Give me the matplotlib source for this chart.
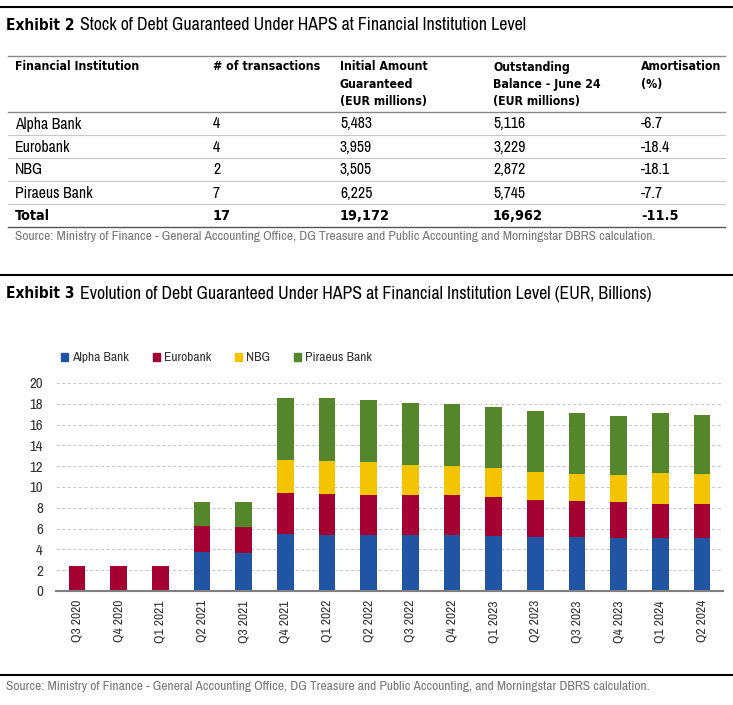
import numpy as np
import matplotlib
matplotlib.use('Agg')
import matplotlib.pyplot as plt
from matplotlib import font_manager as fm
from matplotlib.lines import Line2D
from matplotlib.patches import Patch

# the reference uses a condensed sans, so pick the narrowest faces we have
faces = fm.fontManager.ttflist


def is_bold(f):
    w = f.weight
    if isinstance(w, str):
        return w in ('bold', 'heavy', 'black', 'extra bold', 'demibold', 'semibold')
    return w >= 600


def is_narrow(f):
    return ('Narrow' in f.name or 'Condensed' in f.name
            or f.stretch in ('condensed', 'semi-condensed'))


reg = [f for f in faces if 'Narrow' in f.name and not is_bold(f)] or \
      [f for f in faces if is_narrow(f) and not is_bold(f)]
if reg:
    FAMILY, STRETCH = reg[0].name, reg[0].stretch
else:
    FAMILY, STRETCH = 'Liberation Sans', 'normal'

bld = [f for f in faces if is_narrow(f) and is_bold(f)]
bld.sort(key=lambda f: f.name != FAMILY)
if bld:
    BOLD_FAMILY, BOLD_STRETCH = bld[0].name, bld[0].stretch
else:
    BOLD_FAMILY, BOLD_STRETCH = 'Liberation Sans', 'normal'

plt.rcParams['font.family'] = [FAMILY, 'DejaVu Sans']
plt.rcParams['font.stretch'] = STRETCH

W, H = 733, 705

# Exhibit 2 table
table_headers = ['Financial Institution', '# of transactions',
                 'Initial Amount\nGuaranteed\n(EUR millions)',
                 'Outstanding\nBalance - June 24\n(EUR millions)',
                 'Amortisation\n(%)']
institutions = ['Alpha Bank', 'Eurobank', 'NBG', 'Piraeus Bank']
n_transactions = ['4', '4', '2', '7']
initial_amount = ['5,483', '3,959', '3,505', '6,225']
outstanding = ['5,116', '3,229', '2,872', '5,745']
amortisation = ['-6.7', '-18.4', '-18.1', '-7.7']
total_row = ['Total', '17', '19,172', '16,962', '-11.5']

# Exhibit 3 stacked bars (EUR billions)
quarters = ['Q3 2020', 'Q4 2020', 'Q1 2021', 'Q2 2021', 'Q3 2021', 'Q4 2021',
            'Q1 2022', 'Q2 2022', 'Q3 2022', 'Q4 2022', 'Q1 2023', 'Q2 2023',
            'Q3 2023', 'Q4 2023', 'Q1 2024', 'Q2 2024']
alpha_bank = [0, 0, 0, 3.75, 3.69, 5.45, 5.42, 5.42, 5.42, 5.38, 5.32, 5.22,
              5.22, 5.13, 5.13, 5.12]
eurobank = [2.4, 2.4, 2.4, 2.47, 2.46, 3.94, 3.94, 3.81, 3.84, 3.85, 3.72, 3.56,
            3.43, 3.43, 3.24, 3.23]
nbg = [0, 0, 0, 0, 0, 3.17, 3.17, 3.17, 2.82, 2.76, 2.79, 2.69,
       2.63, 2.56, 2.94, 2.87]
piraeus_bank = [0, 0, 0, 2.37, 2.38, 6.03, 6.00, 6.00, 5.96, 5.99, 5.89, 5.87,
                5.80, 5.74, 5.77, 5.75]

series = [('Alpha Bank', alpha_bank, '#2155a3'),
          ('Eurobank', eurobank, '#a50034'),
          ('NBG', nbg, '#f5c400'),
          ('Piraeus Bank', piraeus_bank, '#56862b')]

src2 = ('Source: Ministry of Finance - General Accounting Office, DG Treasure '
        'and Public Accounting and Morningstar DBRS calculation.')
src3 = ('Source: Ministry of Finance - General Accounting Office, DG Treasure '
        'and Public Accounting, and Morningstar DBRS calculation.')
title2 = 'Stock of Debt Guaranteed Under HAPS at Financial Institution Level'
title3 = 'Evolution of Debt Guaranteed Under HAPS at Financial Institution Level (EUR, Billions)'


def fx(px):
    return px / W


def fy(py):
    return 1 - py / H


def hline(fig, y, x0=0, x1=W, color='black', lw=1.5):
    fig.add_artist(Line2D([fx(x0), fx(x1)], [fy(y), fy(y)],
                          transform=fig.transFigure, color=color, lw=lw))


fig = plt.figure(figsize=(W / 100, H / 100), dpi=100)
renderer = fig.canvas.get_renderer()


def btext(x, y, s, size, **kw):
    return fig.text(x, y, s, fontsize=size, fontweight='bold',
                    family=[BOLD_FAMILY, 'DejaVu Sans'], fontstretch=BOLD_STRETCH, **kw)


def fit(s, width_px, bold=False):
    # font size that makes s about width_px wide
    if bold:
        t = btext(0, 0, s, 10)
    else:
        t = fig.text(0, 0, s, fontsize=10)
    w = t.get_window_extent(renderer).width
    t.remove()
    return 10 * width_px / w


TITLE_FS = fit(title3, 572)
TITLE_B_FS = min(fit('Exhibit 3', 68, bold=True), TITLE_FS * 1.05)
HEAD_FS = min(fit('# of transactions', 112, bold=True), fit('Amortisation', 80, bold=True))
BODY_FS = fit('Alpha Bank', 66)
TOTAL_FS = min(fit('19,172', 50, bold=True), BODY_FS * 1.05)
SRC_FS = fit(src3, 644)
TICK_FS = fit('Q3 2020', 42)
LEG_FS = fit('Alpha Bank', 57)


def title(y, bold, rest):
    t = btext(fx(6), fy(y), bold, TITLE_B_FS, va='center')
    bb = t.get_window_extent(renderer)
    fig.text(fx(bb.x1 + 5), fy(y), rest, fontsize=TITLE_FS, va='center')


# ---- Exhibit 2 ----
hline(fig, 7, lw=1.5)
title(25, 'Exhibit 2', title2)

col_x = [15, 213, 340, 493, 641]
hline(fig, 56, 8, 725, color='#888888', lw=1.0)
for cx, head in zip(col_x, table_headers):
    for k, line in enumerate(head.split('\n')):
        btext(fx(cx), fy(67 + 17.5 * k), line, HEAD_FS, va='center')
hline(fig, 112, 8, 725, color='#888888', lw=1.0)

row_y = [124, 147, 170, 193]
for i, ry in enumerate(row_y):
    vals = [institutions[i], n_transactions[i], initial_amount[i],
            outstanding[i], amortisation[i]]
    for cx, v in zip(col_x, vals):
        fig.text(fx(cx), fy(ry), v, fontsize=BODY_FS, va='center')
    hline(fig, ry + 11, 8, 725, color='#c8c8c8', lw=0.8)
for cx, v in zip(col_x, total_row):
    btext(fx(cx), fy(216), v, TOTAL_FS, va='center')
hline(fig, 227, 8, 725, color='#555555', lw=1.0)
fig.text(fx(15), fy(237), src2, fontsize=SRC_FS, color='#777777', va='center')

# ---- Exhibit 3 ----
hline(fig, 275, lw=1.5)
title(294, 'Exhibit 3', title3)

ax = fig.add_axes([fx(56), fy(591), fx(723) - fx(56), (591 - 383) / H])
x = np.arange(len(quarters))
bottom = np.zeros(len(quarters))
for label, vals, color in series:
    vals = np.array(vals)
    ax.bar(x, vals, 0.4, bottom=bottom, color=color, label=label, zorder=3)
    bottom += vals

ax.set_xlim(-0.5, len(quarters) - 0.5)
ax.set_ylim(0, 20)
ax.set_yticks(np.arange(0, 21, 2))
ax.set_xticks(x)
ax.set_xticklabels(quarters, rotation=90)
ax.yaxis.grid(True, linestyle=(0, (3, 2)), color='#cccccc', lw=0.8, zorder=0)
for s in ['left', 'right', 'top']:
    ax.spines[s].set_visible(False)
ax.spines['bottom'].set_color('#7f7f7f')
ax.spines['bottom'].set_linewidth(1.5)
ax.spines['bottom'].set_zorder(4)
ax.tick_params(axis='both', length=0, labelsize=TICK_FS, colors='#333333')
ax.tick_params(axis='y', labelsize=TICK_FS * 1.1, pad=9.5)
ax.tick_params(axis='x', pad=6.5)

leg_px = LEG_FS * 100 / 72
handles = [Patch(color=c, label=l) for l, _, c in series]
fig.legend(handles=handles, loc='center left', bbox_to_anchor=(fx(52), fy(358)),
           ncol=4, frameon=False, fontsize=LEG_FS, handlelength=7 / leg_px,
           handleheight=7 / leg_px, handletextpad=4 / leg_px,
           columnspacing=24 / leg_px, labelcolor='#333333', borderpad=0.2)

hline(fig, 675, lw=1.5)
fig.text(fx(6), fy(687), src3, fontsize=SRC_FS, color='#777777', va='center')

fig.savefig('out.png', dpi=100)
